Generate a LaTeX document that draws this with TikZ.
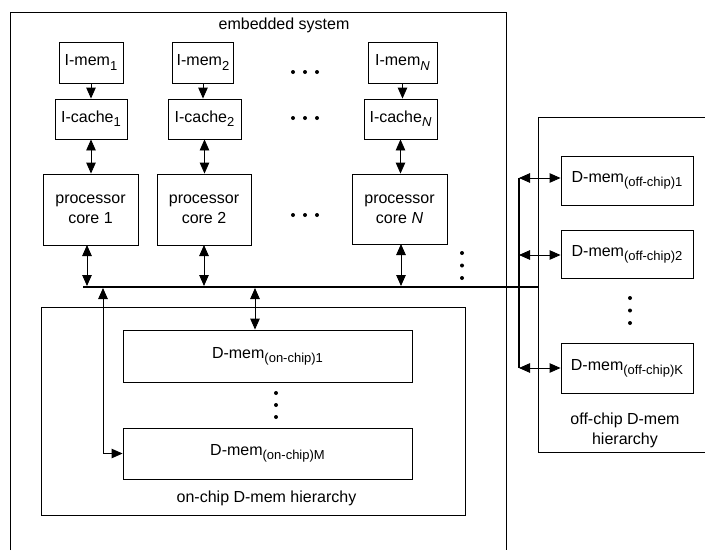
\documentclass[tikz,border=0pt]{standalone}
\usepackage{fontspec}
\setmainfont{Liberation Sans}
\usetikzlibrary{arrows.meta}
\newcommand\sbx[1]{\raisebox{-0.5ex}{\fontsize{13}{13}\selectfont #1}}
\begin{document}
\begin{tikzpicture}[x=1pt,y=-1pt,
  every node/.style={font=\fontsize{16}{20}\selectfont, inner sep=0pt},
  box/.style={draw, line width=0.9pt, align=center},
  ln/.style={line width=0.9pt},
  arr/.style={ln, -{Triangle[length=11pt,width=9.5pt]}},
  darr/.style={ln, {Triangle[length=11pt,width=9.5pt]}-{Triangle[length=11pt,width=9.5pt]}},
  busline/.style={line width=2pt},
  dot/.style={circle, fill, minimum size=4pt, inner sep=0pt}]
\useasboundingbox (0,0) rectangle (705,550);
\fill[white] (0,0) rectangle (705,550);
% embedded system (open at bottom)
\draw[ln] (10,550) -- (10,12) -- (506,12) -- (506,550);
\node (es) at (284,25) {embedded system};
% I-mem
\node[box, minimum width=64pt, minimum height=41pt] (im1) at (91,62.5) {I-mem\sbx{1}};
\node[box, minimum width=61pt, minimum height=41pt] (im2) at (203,62.5) {I-mem\sbx{2}};
\node[box, minimum width=69pt, minimum height=41pt] (imN) at (402.5,62.5) {I-mem\sbx{\itshape N}};
% I-cache
\node[box, minimum width=72pt, minimum height=40pt] (ic1) at (91,119) {I-cache\sbx{1}};
\node[box, minimum width=73pt, minimum height=40pt] (ic2) at (204.5,119) {I-cache\sbx{2}};
\node[box, minimum width=73pt, minimum height=40pt] (icN) at (400.5,119) {I-cache\sbx{\itshape N}};
% cores
\node[box, minimum width=95pt, minimum height=71pt] (c1) at (90.5,209.5) {processor\\core 1};
\node[box, minimum width=94pt, minimum height=71pt] (c2) at (204,209.5) {processor\\core 2};
\node[box, minimum width=95pt, minimum height=70pt] (cN) at (399.5,209) {processor\\core \itshape N};
% dots
\foreach \x in {293,305,317} {
  \node[dot] at (\x,72) {};
  \node[dot] at (\x,118) {};
  \node[dot] at (\x,215) {};
}
\foreach \y in {253,265.5,278} \node[dot] at (462,\y) {};
\foreach \y in {393,405,417} \node[dot] at (276,\y) {};
\foreach \y in {298,310.5,323} \node[dot] at (630,\y) {};
% arrows I-mem -> I-cache
\draw[arr] (im1.south) -- (ic1.north);
\draw[arr] (im2.south) -- (im2.south |- ic2.north);
\draw[arr] (imN.south) -- (imN.south |- icN.north);
% I-cache <-> core
\draw[darr] (ic1.south) -- (ic1.south |- c1.north);
\draw[darr] (ic2.south) -- (ic2.south |- c2.north);
\draw[darr] (icN.south) -- (icN.south |- cN.north);
% bus
\coordinate (busL) at (83,287);
\coordinate (busR) at (538,287);
\draw[busline] (busL) -- (busR);
\draw[darr] (87,245) -- (87,286);
\draw[darr] (204,245) -- (204,286);
\draw[darr] (401,244) -- (401,286);
% on-chip hierarchy
\node[draw, line width=0.9pt, minimum width=424pt, minimum height=208pt] (onh) at (253,411) {};
\node (onl) at (266.5,498) {on-chip D-mem hierarchy};
\node[box, minimum width=289pt, minimum height=52pt] (dm1) at (267.5,356) {D-mem\sbx{(on-chip)1}};
\node[box, minimum width=289pt, minimum height=51pt] (dmM) at (267.5,453.5) {D-mem\sbx{(on-chip)M}};
\coordinate (b1) at (255,288);
\draw[darr] (b1) -- (b1 |- dm1.north);
\coordinate (b2) at (103,288);
\draw[darr] (b2) |- (dmM.west);
% off-chip hierarchy (open at right)
\draw[ln] (705,117) -- (538,117) -- (538,452) -- (705,452);
\node[align=center] (offl) at (625,430) {off-chip D-mem\\hierarchy};
\node[box, minimum width=132pt, minimum height=49pt] (do1) at (627,180.5) {D-mem\sbx{(off-chip)1}};
\node[box, minimum width=132pt, minimum height=48pt] (do2) at (627,254) {D-mem\sbx{(off-chip)2}};
\node[box, minimum width=132pt, minimum height=50pt] (doK) at (627,368) {D-mem\sbx{(off-chip)K}};
\coordinate (vT) at (519,178);
\coordinate (vB) at (519,368);
\draw[line width=1.6pt] (vT) -- (vB);
\draw[darr] (vT) -- (do1.west |- vT);
\draw[darr] (519,255) -- (do2.west |- 0,255);
\draw[darr] (vB) -- (doK.west);
\end{tikzpicture}
\end{document}
